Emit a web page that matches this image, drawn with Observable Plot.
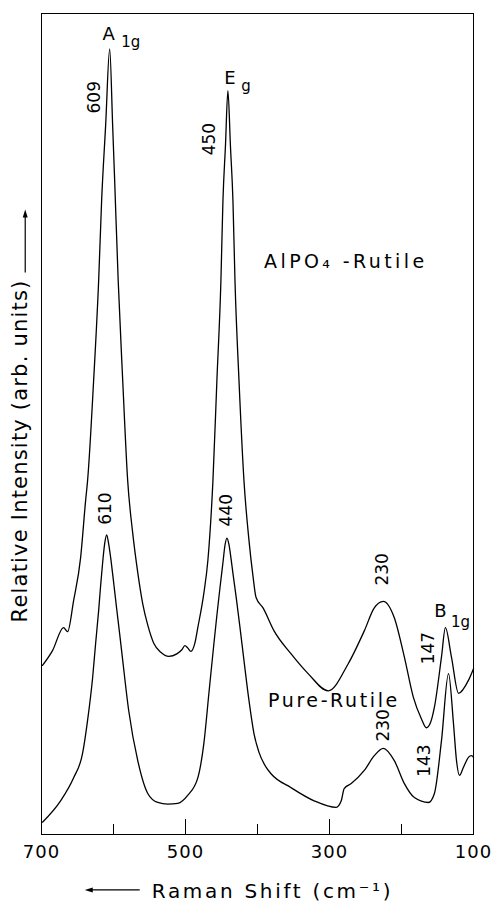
<!DOCTYPE html>
<html><head><meta charset="utf-8">
<script src="https://cdn.jsdelivr.net/npm/d3@7"></script>
<script src="https://cdn.jsdelivr.net/npm/@observablehq/plot@0.6"></script>
<style>body{margin:0;background:#fff} svg{display:block}</style>
</head><body><div id="chart"></div>
<script>
// AlPO4-Rutile spectrum (Raman shift, relative intensity)
const alpoShift = [698.6,684.7,669.4,663.8,655.4,645.7,638.7,636.0,627.6,620.6,616.5,610.9,605.3,601.2,598.4,593.5,587.2,580.3,573.3,566.3,559.4,552.4,544.1,534.3,523.2,512.0,505.1,500.9,496.7,492.6,487.0,482.9,474.5,468.9,461.9,456.4,450.8,448.0,444.5,441.1,437.6,434.1,431.3,425.7,418.8,411.8,406.3,402.1,392.3,377.0,353.3,329.7,301.8,274.0,251.7,237.8,225.3,210.0,196.0,183.5,172.4,165.4,159.8,154.3,144.5,139.0,130.6,120.8,106.9,100.0];
const alpoIntensity = [20.6,22.4,25.2,24.7,28.5,33.7,40.7,43.1,55.3,67.5,77.2,86.4,95.7,86.4,79.7,67.5,55.3,43.1,36.7,31.9,28.1,25.5,23.3,22.2,21.7,22.0,22.5,23.0,22.7,22.3,23.3,25.2,29.4,33.4,43.1,55.3,67.5,77.2,83.9,90.6,83.9,77.2,67.5,55.3,43.1,35.8,31.5,28.9,27.6,24.8,22.0,19.6,17.5,20.8,24.8,27.6,28.4,26.4,21.6,16.7,14.1,13.0,13.6,15.5,21.6,25.2,21.6,17.2,18.8,20.2];

// Pure-Rutile spectrum
const pureShift = [698.6,673.5,655.4,642.9,636.0,629.0,624.8,620.6,617.9,615.1,612.3,609.5,606.7,603.9,599.8,595.6,591.4,587.2,578.9,566.3,552.4,538.5,524.6,510.7,496.7,482.9,474.5,467.5,460.5,456.4,452.2,448.0,445.2,442.4,439.6,436.9,434.1,429.9,424.3,418.8,411.8,404.9,397.9,388.1,381.2,353.3,321.3,290.7,283.7,279.6,269.8,251.7,237.8,225.3,210.0,196.0,182.1,162.6,154.3,144.5,134.7,127.8,123.6,119.4,113.9,107.0,102.8,100.0];
const pureIntensity = [1.5,4.1,6.9,9.9,13.9,19.1,23.3,27.3,30.3,33.1,35.4,36.5,35.4,33.7,30.7,27.5,24.4,21.2,15.1,9.0,5.0,3.9,3.7,3.8,4.8,6.9,11.1,17.2,23.3,26.7,30.0,33.1,35.2,36.1,35.3,33.7,31.8,29.1,25.2,21.2,16.3,12.3,10.0,8.2,7.4,5.7,4.1,3.3,4.1,5.6,6.2,7.8,9.6,10.5,9.0,6.2,4.5,3.9,5.0,11.4,19.6,13.5,9.0,7.2,8.2,9.4,9.6,9.4];

// axis ticks
const tickLabels = [700, 500, 300, 100];
const minorTicks = [600, 400, 200];

// mode symbols and subscripts
const symbolText = ["A", "E", "B"];
const symbolShift = [606.7, 438.3, 145.9];
const symbolIntensity = [97.5, 92.1, 27.2];
const subText = ["1g", "g", "1g"];
const subShift = [576.1, 416.0, 118.1];
const subIntensity = [96.5, 91.1, 25.9];

// peak position labels
const peakText = ["609", "450", "610", "440", "230", "147", "230", "143"];
const peakShift = [626.9, 466.1, 610.9, 442.4, 226.7, 162.6, 225.3, 168.2];
const peakIntensity = [89.8, 84.7, 39.7, 39.5, 32.3, 22.7, 13.3, 9.0];

// sample names
const sampleText = ["AlPO₄ -Rutile", "Pure-Rutile"];
const sampleShift = [390.9, 385.4];
const sampleIntensity = [69.7, 16.3];

const xTitle = "Raman Shift (cm⁻¹)";
const yTitle = "Relative Intensity (arb. units)";

const alpo = alpoShift.map((s, i) => ({shift: s, intensity: alpoIntensity[i]}));
const pure = pureShift.map((s, i) => ({shift: s, intensity: pureIntensity[i]}));
const symbols = symbolText.map((t, i) => ({t, shift: symbolShift[i], intensity: symbolIntensity[i]}));
const subs = subText.map((t, i) => ({t, shift: subShift[i], intensity: subIntensity[i]}));
const peaks = peakText.map((t, i) => ({t, shift: peakShift[i], intensity: peakIntensity[i]}));
const samples = sampleText.map((t, i) => ({t, shift: sampleShift[i], intensity: sampleIntensity[i]}));

const W = 498, H = 902, mt = 13, mb = 68;
const frameH = H - mt - mb;

const chart = Plot.plot({
  width: W, height: H,
  marginLeft: 41, marginRight: 25, marginTop: mt, marginBottom: mb,
  style: {fontFamily: "'DejaVu Sans', sans-serif", fontSize: "18px", color: "black", background: "white"},
  x: {domain: [700, 100], label: null},
  y: {domain: [0, 100], axis: null},
  marks: [
    Plot.frame({stroke: "black", strokeWidth: 1}),
    Plot.ruleX(tickLabels, {x: d => d, insetTop: frameH - 15, stroke: "black", strokeWidth: 1}),
    Plot.ruleX(minorTicks, {x: d => d, insetTop: frameH - 10, stroke: "black", strokeWidth: 1}),
    Plot.axisX(tickLabels, {tickSize: 0, tickPadding: 11, fontSize: 18, label: null}),
    Plot.line(alpo, {x: "shift", y: "intensity", curve: "monotone-x", stroke: "black", strokeWidth: 1.3}),
    Plot.line(pure, {x: "shift", y: "intensity", curve: "monotone-x", stroke: "black", strokeWidth: 1.3}),
    Plot.text(symbols, {x: "shift", y: "intensity", text: "t", fontSize: 18}),
    Plot.text(subs, {x: "shift", y: "intensity", text: "t", fontSize: 15}),
    Plot.text(peaks, {x: "shift", y: "intensity", text: "t", fontSize: 17, rotate: -90}),
    Plot.text(samples, {x: "shift", y: "intensity", text: "t", fontSize: 19, textAnchor: "start"}),
    Plot.text([xTitle], {text: d => d, frameAnchor: "bottom", lineAnchor: "middle", dy: 57, dx: 15, fontSize: 20}),
    Plot.text([yTitle], {text: d => d, frameAnchor: "left", textAnchor: "middle", lineAnchor: "middle", rotate: -90, dx: -21, dy: 27, fontSize: 21})
  ]
});

document.getElementById("chart").append(chart);
const sel = d3.select(chart);
const pick = pred => sel.selectAll("text").filter(function () { return pred(this.textContent); });
pick(t => t === sampleText[0]).attr("letter-spacing", "3.4px");
pick(t => t === sampleText[1]).attr("letter-spacing", "2.6px");
pick(t => t === xTitle).attr("letter-spacing", "2.7px");
pick(t => t === yTitle).attr("letter-spacing", "1.2px");
pick(t => tickLabels.map(String).includes(t)).attr("letter-spacing", "1px");

const svgBox = chart.getBoundingClientRect();
// arrow left of x title
const xb = pick(t => t === xTitle).node().getBoundingClientRect();
const ay = (xb.top + xb.bottom) / 2 - svgBox.top - 1;
const ax2 = xb.left - svgBox.left - 12, ax1 = ax2 - 55;
sel.append("line").attr("x1", ax1 + 5).attr("x2", ax2).attr("y1", ay).attr("y2", ay).attr("stroke", "black").attr("stroke-width", 1.2);
sel.append("path").attr("d", `M${ax1},${ay}l8,-2.5l0,5z`).attr("fill", "black");
// arrow above y title
const yb = pick(t => t === yTitle).node().getBoundingClientRect();
const bx = (yb.left + yb.right) / 2 - svgBox.left + 5;
const by2 = yb.top - svgBox.top - 7, by1 = by2 - 63;
sel.append("line").attr("x1", bx).attr("x2", bx).attr("y1", by1 + 5).attr("y2", by2).attr("stroke", "black").attr("stroke-width", 1.2);
sel.append("path").attr("d", `M${bx},${by1}l-2.5,8l5,0z`).attr("fill", "black");
</script></body></html>
